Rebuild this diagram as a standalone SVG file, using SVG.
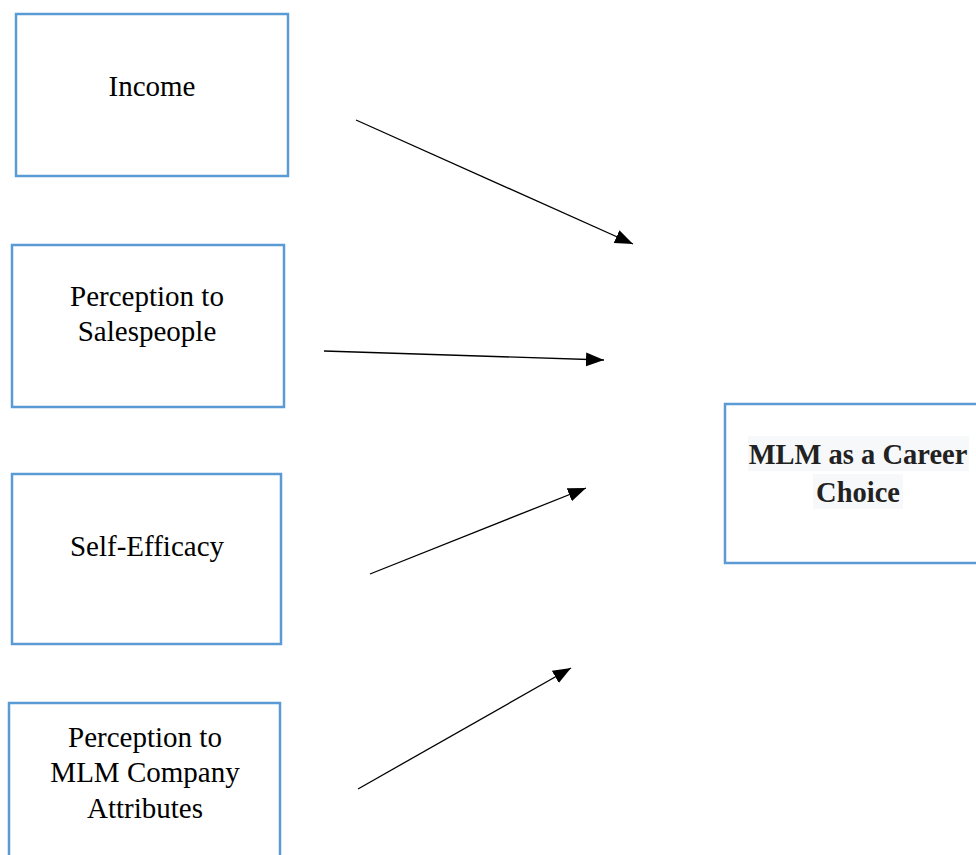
<svg xmlns="http://www.w3.org/2000/svg" width="976" height="855" viewBox="0 0 976 855">
<style>
.box{fill:#ffffff;stroke:#5b9bd5;stroke-width:2.5}
.t{font-family:"Liberation Serif","Times New Roman",serif;font-size:29px;fill:#000;text-anchor:middle}
.b{font-family:"Liberation Serif","Times New Roman",serif;font-size:28.5px;font-weight:bold;fill:#222;text-anchor:middle}
.hl{fill:#f7f8fa}
.c{stroke:#000;stroke-width:1.3;fill:none;marker-end:url(#ah)}
</style>
<defs>
<marker id="ah" markerUnits="userSpaceOnUse" markerWidth="20" markerHeight="16" refX="18" refY="7" orient="auto">
<path d="M0,0 L18,7 L0,14 z" fill="#000"/>
</marker>
</defs>
<rect width="976" height="855" fill="#fff"/>
<g id="income">
<rect class="box" x="16" y="14" width="272" height="162"/>
<text class="t" x="152" y="96">Income</text>
</g>
<g id="salespeople">
<rect class="box" x="12" y="245" width="272" height="162"/>
<text class="t" x="147" y="306">Perception to</text>
<text class="t" x="147" y="341">Salespeople</text>
</g>
<g id="selfefficacy">
<rect class="box" x="12" y="474" width="269" height="170"/>
<text class="t" x="147" y="556">Self-Efficacy</text>
</g>
<g id="mlmattributes">
<rect class="box" x="9" y="703" width="271" height="160"/>
<text class="t" x="145" y="747">Perception to</text>
<text class="t" x="145" y="782">MLM Company</text>
<text class="t" x="145" y="818">Attributes</text>
</g>
<g id="career">
<rect class="box" x="725" y="404" width="260" height="159"/>
<rect class="hl" x="748" y="436" width="221" height="35"/>
<rect class="hl" x="813" y="474" width="90" height="35"/>
<text class="b" x="858" y="464">MLM as a Career</text>
<text class="b" x="858" y="502">Choice</text>
</g>
<g id="connectors">
<line class="c" x1="356" y1="120" x2="633" y2="244"/>
<line class="c" x1="324" y1="351" x2="604" y2="360"/>
<line class="c" x1="370" y1="574" x2="586" y2="488"/>
<line class="c" x1="358" y1="789" x2="571" y2="668"/>
</g>
</svg>
